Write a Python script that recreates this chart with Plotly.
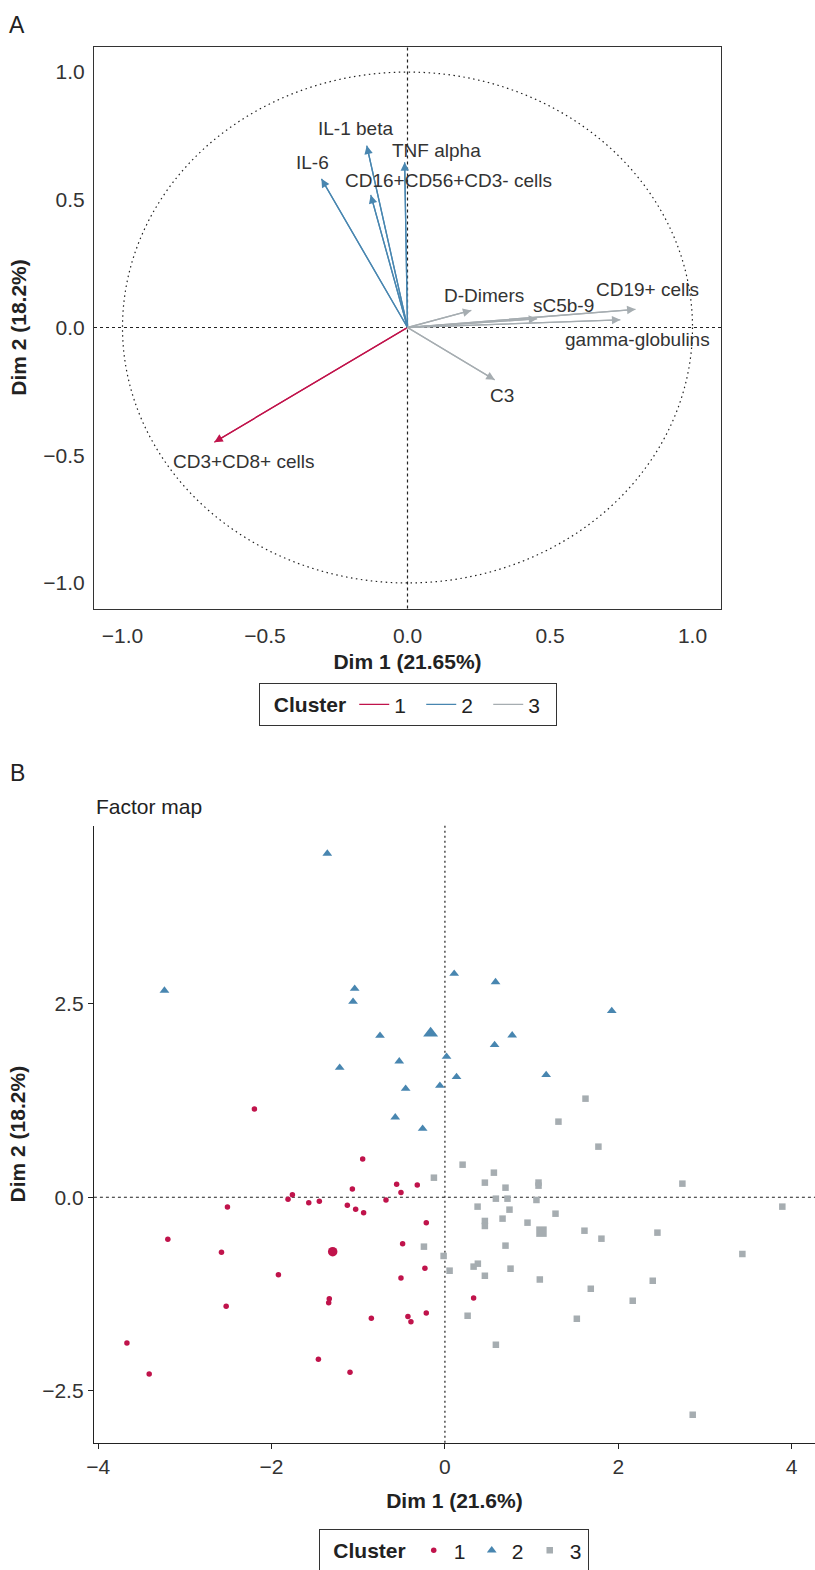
import plotly.graph_objects as go

# ---------------- Panel A: variable vectors ----------------
var_names = ["IL-1 beta", "IL-6", "TNF alpha", "CD16+CD56+CD3- cells", "D-Dimers",
             "sC5b-9", "CD19+ cells", "gamma-globulins", "C3", "CD3+CD8+ cells"]
var_dim1 = [-0.143, -0.302, -0.010, -0.129, 0.224, 0.455, 0.800, 0.747, 0.306, -0.678]
var_dim2 = [0.712, 0.582, 0.647, 0.519, 0.067, 0.034, 0.071, 0.030, -0.205, -0.449]
var_cluster = [2, 2, 2, 2, 3, 3, 3, 3, 3, 1]

# ---------------- Panel B: individuals ----------------
c1_x = [-2.198, -0.949, -1.068, -0.557, -0.319, -0.507, -1.760, -1.810, -1.571, -1.449,
        -0.680, -2.509, -1.126, -1.030, -0.938, -0.215, -3.197, -0.488, -2.578, -0.231,
        -1.921, -0.507, 0.331, -1.334, -1.341, -2.524, -0.215, -0.849, -0.427, -0.392,
        -3.669, -1.460, -3.412, -1.095]
c1_y = [1.141, 0.495, 0.107, 0.168, 0.159, 0.060, 0.034, -0.026, -0.070, -0.052,
        -0.035, -0.125, -0.103, -0.155, -0.199, -0.328, -0.543, -0.600, -0.711, -0.917,
        -1.000, -1.043, -1.301, -1.310, -1.362, -1.408, -1.495, -1.563, -1.542, -1.607,
        -1.882, -2.093, -2.283, -2.261]
c2_x = [-1.357, -3.236, -1.041, -1.060, -0.749, 0.019, -0.527, -1.214, -0.453, -0.058,
        -0.573, -0.257, 0.107, 0.584, 1.925, 0.776, 0.573, 0.134, 1.168]
c2_y = [4.440, 2.670, 2.695, 2.527, 2.088, 1.817, 1.757, 1.675, 1.403, 1.442,
        1.033, 0.886, 2.889, 2.780, 2.407, 2.093, 1.968, 1.554, 1.580]
c3_x = [1.622, 1.310, 1.771, 0.204, -0.127, 0.565, 0.461, 0.699, 1.080, 1.080,
        2.740, 0.588, 0.722, 1.056, 0.377, 0.745, 3.893, 1.276, 0.665, 0.461,
        0.461, 0.953, 1.610, 1.806, 2.452, 0.699, -0.242, 3.432, -0.015, 0.380,
        0.331, 0.054, 0.757, 0.461, 1.095, 2.398, 1.683, 2.167, 0.262, 1.522,
        0.588, 2.859]
c3_y = [1.274, 0.977, 0.654, 0.421, 0.253, 0.318, 0.189, 0.124, 0.190, 0.150,
        0.176, -0.018, -0.018, -0.035, -0.121, -0.160, -0.121, -0.212, -0.276, -0.306,
        -0.371, -0.328, -0.432, -0.535, -0.457, -0.625, -0.638, -0.733, -0.758, -0.858,
        -0.896, -0.948, -0.922, -1.013, -1.064, -1.077, -1.181, -1.336, -1.530, -1.568,
        -1.904, -2.809]
centroid_x = [-1.295, -0.165, 1.114]
centroid_y = [-0.703, 2.120, -0.444]

cluster_labels = ["1", "2", "3"]
colors = {1: "#C0134B", 2: "#4886B0", 3: "#A6ADB1"}
symbols = {1: "circle", 2: "triangle-up", 3: "square"}
sizes = {1: 5.5, 2: 8.5, 3: 6.5}
csizes = {1: 9.5, 2: 13, 3: 10.5}

# label offsets in pixels (dx, dy up) -- styling
label_off = {"IL-1 beta": (-11, 17), "IL-6": (-9, 16), "TNF alpha": (32, 12),
             "CD16+CD56+CD3- cells": (78, 14), "D-Dimers": (13, 15), "sC5b-9": (26, 13),
             "CD19+ cells": (12, 20), "gamma-globulins": (17, -20), "C3": (7, -16),
             "CD3+CD8+ cells": (30, -19)}

TXT = "Liberation Sans, Arial, Helvetica, sans-serif"
W, H = 815, 1570

fig = go.Figure()

# Panel A line traces (legend 1)
for k in (1, 2, 3):
    xs, ys = [], []
    for x, y, c in zip(var_dim1, var_dim2, var_cluster):
        if c == k:
            xs += [0, x, None]
            ys += [0, y, None]
    fig.add_trace(go.Scatter(x=xs, y=ys, mode="lines", name=cluster_labels[k - 1],
                             line=dict(color=colors[k], width=1.3),
                             xaxis="x", yaxis="y", legend="legend", hoverinfo="skip"))

annotations = []
for name, x, y, c in zip(var_names, var_dim1, var_dim2, var_cluster):
    annotations.append(dict(x=x, y=y, ax=0, ay=0, xref="x", yref="y", axref="x", ayref="y",
                            text="", showarrow=True, arrowhead=2, arrowsize=1.3,
                            arrowwidth=1.3, arrowcolor=colors[c], standoff=0))
    dx, dy = label_off[name]
    annotations.append(dict(x=x, y=y, xref="x", yref="y", text=name, showarrow=False,
                            xanchor="center", yanchor="middle",
                            xshift=dx, yshift=dy, font=dict(family=TXT, size=19, color="#333")))

# Panel B scatter (legend 2)
for k, xs, ys in ((1, c1_x, c1_y), (2, c2_x, c2_y), (3, c3_x, c3_y)):
    fig.add_trace(go.Scatter(x=xs, y=ys, mode="markers", name=cluster_labels[k - 1],
                             marker=dict(symbol=symbols[k], color=colors[k], size=sizes[k],
                                         line=dict(width=0)),
                             xaxis="x2", yaxis="y2", legend="legend2"))
for k in (1, 2, 3):
    fig.add_trace(go.Scatter(x=[centroid_x[k - 1]], y=[centroid_y[k - 1]], mode="markers",
                             marker=dict(symbol=symbols[k], color=colors[k], size=csizes[k],
                                         line=dict(width=0)),
                             xaxis="x2", yaxis="y2", showlegend=False))

# domains
axA_x = [94 / W, 721 / W]
axA_y = [1 - 608.5 / H, 1 - 46.5 / H]
axB_x = [93.9 / W, 1.0]
axB_y = [1 - 1442.7 / H, 1 - 825.6 / H]

shapes = [
    dict(type="circle", xref="x", yref="y", x0=-1, y0=-1, x1=1, y1=1,
         line=dict(color="#222", width=1.2, dash="1.5px,3.5px")),
    dict(type="line", xref="x", yref="y domain", x0=0, x1=0, y0=0, y1=1,
         line=dict(color="#222", width=1.2, dash="3px,3px"), layer="below"),
    dict(type="line", xref="x domain", yref="y", x0=0, x1=1, y0=0, y1=0,
         line=dict(color="#222", width=1.2, dash="3px,3px"), layer="below"),
    dict(type="line", xref="x2", yref="y2 domain", x0=0, x1=0, y0=0, y1=1,
         line=dict(color="#222", width=1.2, dash="2px,3px"), layer="below"),
    dict(type="line", xref="x2 domain", yref="y2", x0=0, x1=1, y0=0, y1=0,
         line=dict(color="#222", width=1.2, dash="3px,3px"), layer="below"),
]

annotations += [
    dict(x=17 / W, y=1 - 25 / H, xref="paper", yref="paper", text="A", showarrow=False,
         xanchor="center", yanchor="middle", font=dict(family=TXT, size=23, color="#222")),
    dict(x=17 / W, y=1 - 773 / H, xref="paper", yref="paper", text="B", showarrow=False,
         xanchor="center", yanchor="middle", font=dict(family=TXT, size=23, color="#222")),
    dict(x=94 / W, y=1 - 806 / H, xref="paper", yref="paper", text="Factor map",
         showarrow=False, xanchor="left", yanchor="middle",
         font=dict(family=TXT, size=21, color="#222")),
]

tickfont = dict(family=TXT, size=21, color="#333")
titlefont = dict(family=TXT, size=21, color="#222")

fig.update_layout(
    width=W, height=H, margin=dict(l=0, r=0, t=0, b=0, autoexpand=False),
    paper_bgcolor="white", plot_bgcolor="white",
    shapes=shapes, annotations=annotations,
    xaxis=dict(domain=axA_x, range=[-1.1, 1.1], anchor="y", showgrid=False, zeroline=False,
               showline=True, mirror=True, linecolor="#333", linewidth=1.2, automargin=False,
               tickvals=[-1, -0.5, 0, 0.5, 1], ticktext=["\u22121.0", "\u22120.5", "0.0", "0.5", "1.0"],
               ticks="", tickfont=tickfont, ticklabelstandoff=8,
               title=dict(text="<b>Dim 1 (21.65%)</b>", font=titlefont, standoff=8)),
    yaxis=dict(domain=axA_y, range=[-1.1, 1.1], anchor="x", showgrid=False, zeroline=False,
               showline=True, mirror=True, linecolor="#333", linewidth=1.2, automargin=False,
               tickvals=[-1, -0.5, 0, 0.5, 1], ticktext=["\u22121.0", "\u22120.5", "0.0", "0.5", "1.0"],
               ticks="", tickfont=tickfont, ticklabelstandoff=4,
               title=dict(text="<b>Dim 2 (18.2%)</b>", font=titlefont, standoff=10)),
    xaxis2=dict(domain=axB_x, range=[-4.05, 4.27], anchor="y2", showgrid=False, zeroline=False,
                showline=True, linecolor="#222", linewidth=1.2, automargin=False,
                tickvals=[-4, -2, 0, 2, 4], ticks="outside", ticklen=5, tickcolor="#222",
                tickfont=tickfont,
                title=dict(text="<b>Dim 1 (21.6%)</b>", font=titlefont, standoff=16)),
    yaxis2=dict(domain=axB_y, range=[-3.171, 4.802], anchor="x2", showgrid=False, zeroline=False,
                showline=True, linecolor="#222", linewidth=1.2, automargin=False,
                tickvals=[-2.5, 0, 2.5], ticktext=["\u22122.5", "0.0", "2.5"],
                ticks="outside", ticklen=5, tickcolor="#222", tickfont=tickfont,
                title=dict(text="<b>Dim 2 (18.2%)</b>", font=titlefont, standoff=10)),
    legend=dict(orientation="h", x=408 / W, xanchor="center", y=1 - 683 / H, yanchor="top",
                bordercolor="#333", borderwidth=1.2, bgcolor="white",
                title=dict(text="&nbsp;&nbsp;<b>Cluster</b>", side="left",
                           font=dict(family=TXT, size=21, color="#222")),
                font=dict(family=TXT, size=21, color="#222"), itemwidth=30,
                entrywidth=22, entrywidthmode="pixels"),
    legend2=dict(orientation="h", x=454 / W, xanchor="center", y=1 - 1529 / H, yanchor="top",
                 bordercolor="#333", borderwidth=1.2, bgcolor="white",
                 title=dict(text="&nbsp;&nbsp;<b>Cluster</b>", side="left",
                            font=dict(family=TXT, size=21, color="#222")),
                 font=dict(family=TXT, size=21, color="#222"), itemwidth=30,
                 entrywidth=13, entrywidthmode="pixels"),
)

fig.write_html("out.html", config={"responsive": False, "displayModeBar": False},
               post_script="document.body.style.margin='0';document.body.style.overflow='hidden';")
